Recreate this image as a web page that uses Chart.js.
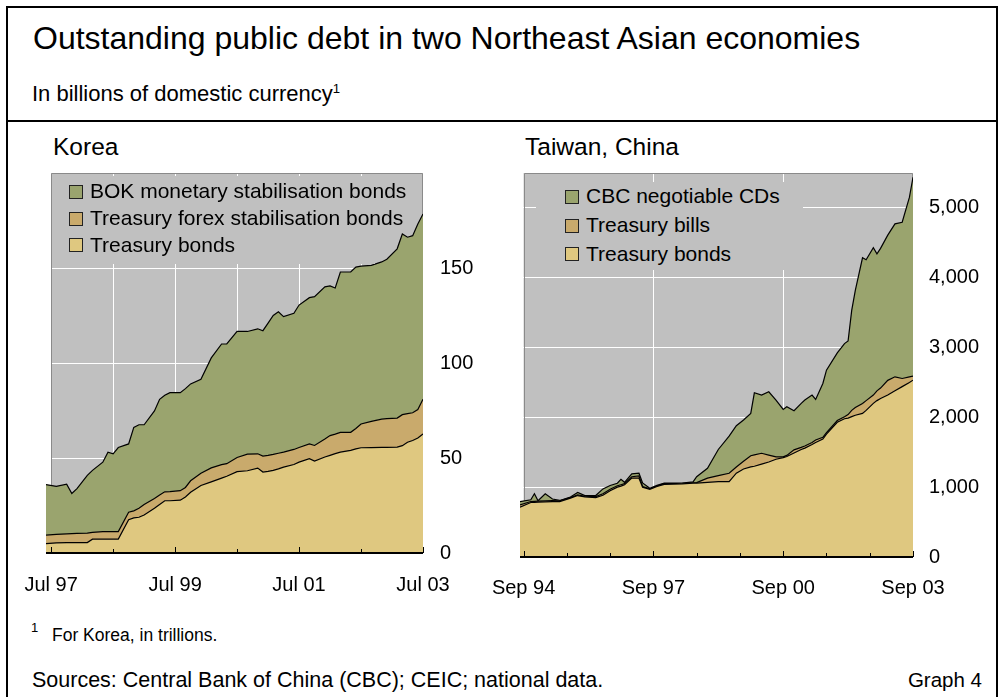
<!DOCTYPE html>
<html>
<head>
<meta charset="utf-8">
<script src="https://cdn.jsdelivr.net/npm/chart.js@4.4.1/dist/chart.umd.min.js"></script>
<style>
  html, body { margin: 0; padding: 0; background: #fff; }
  body { font-family: "Liberation Sans", Arial, sans-serif; color: #000; }
  #page { position: relative; width: 1000px; height: 697px; overflow: hidden; }
  .frame { position: absolute; left: 6px; top: 6px; width: 992px; height: 720px; border: 2px solid #000; box-sizing: border-box; }
  .rule { position: absolute; left: 6px; top: 120px; width: 992px; height: 2px; background: #000; }
  .t { position: absolute; line-height: 1; white-space: nowrap; }
  .t sup { font-size: 0.6em; vertical-align: 0.6em; line-height: 0; }
  canvas { position: absolute; }
  .legend { position: absolute; background: #c0c0c0; z-index: 2; }
  .sw { position: absolute; width: 12px; height: 12px; border: 1px solid #222; z-index: 3; }
  .lg { position: absolute; font-size: 21px; line-height: 1; white-space: nowrap; z-index: 3; }
</style>
</head>
<body>
<div id="page">
  <div class="frame"></div>
  <div class="rule"></div>
  <div class="t" style="left:33px; top:22px; font-size:32px;">Outstanding public debt in two Northeast Asian economies</div>
  <div class="t" style="left:32px; top:83px; font-size:22px;">In billions of domestic currency<sup>1</sup></div>
  <div class="t" style="left:53px; top:135px; font-size:24.5px;">Korea</div>
  <div class="t" style="left:525px; top:135px; font-size:24.5px;">Taiwan, China</div>

  <canvas id="kr" width="470" height="460" style="left:16px; top:160px;"></canvas>
  <canvas id="tw" width="500" height="460" style="left:490px; top:160px;"></canvas>

  <div class="t" style="left:31px; top:621px; font-size:13px;">1</div>
  <div class="t" style="left:52px; top:627px; font-size:17.5px;">For Korea, in trillions.</div>
  <div class="t" style="left:32px; top:670px; font-size:21.5px;">Sources: Central Bank of China (CBC); CEIC; national data.</div>
  <div class="t" style="right:18px; top:670px; font-size:20.5px;">Graph 4</div>
</div>
<script>
// Korea, trillions of won
const krDates = ['1997-06', '1997-08', '1997-10', '1997-11', '1997-12', '1998-02', '1998-03', '1998-05', '1998-06', '1998-07',
  '1998-08', '1998-10', '1998-11', '1998-12', '1999-01', '1999-03', '1999-04', '1999-05', '1999-06', '1999-08',
  '1999-09', '1999-10', '1999-12', '2000-02', '2000-04', '2000-05', '2000-07', '2000-09', '2000-11', '2000-12',
  '2001-01', '2001-02', '2001-03', '2001-04', '2001-06', '2001-07', '2001-09', '2001-10', '2001-12', '2002-01',
  '2002-02', '2002-03', '2002-05', '2002-06', '2002-07', '2002-09', '2002-11', '2002-12', '2003-02', '2003-03',
  '2003-04', '2003-05', '2003-06', '2003-07'];
const krBonds = [4.9, 5.3, 5.5, 5.5, 5.5, 5.5, 7.3, 7.3, 7.3, 7.3,
  7.3, 17.5, 18.5, 18.8, 20.0, 23.5, 25.5, 27.5, 27.5, 27.8,
  29.5, 32.0, 35.5, 37.4, 39.4, 40.4, 42.8, 43.3, 44.7, 42.6,
  43.0, 43.5, 44.3, 45.2, 46.6, 47.8, 49.6, 48.4, 50.5, 51.4,
  52.3, 53.1, 54.0, 54.8, 55.4, 55.5, 55.6, 55.6, 55.7, 56.5,
  58.3, 59.2, 60.5, 62.7];
const krForex = [4.5, 4.5, 4.6, 4.7, 4.8, 5.0, 3.6, 4.0, 4.0, 4.0,
  4.0, 4.0, 3.7, 4.7, 5.5, 5.2, 5.0, 4.7, 4.8, 5.0,
  5.0, 6.0, 6.5, 7.4, 7.1, 6.6, 7.5, 8.7, 7.5, 8.4,
  8.4, 8.4, 8.2, 7.9, 7.9, 7.7, 7.8, 8.2, 9.5, 10.4,
  10.3, 10.4, 9.5, 10.7, 12.5, 13.8, 14.9, 15.1, 15.3, 16.3,
  15.1, 14.6, 15.0, 18.2];
const krBok = [26.6, 25.3, 26.1, 21.1, 23.6, 30.4, 32.6, 36.5, 41.8, 40.9,
  44.2, 35.9, 43.9, 44.0, 42.0, 46.1, 50.4, 50.8, 52.1, 51.6,
  52.0, 51.0, 49.4, 57.9, 63.5, 63.0, 66.3, 64.6, 65.8, 66.0,
  69.6, 73.1, 74.5, 71.3, 71.7, 75.0, 77.0, 78.3, 80.1, 78.8,
  76.9, 84.4, 84.4, 85.0, 83.1, 82.1, 82.7, 83.9, 89.1, 95.1,
  92.8, 93.2, 97.7, 97.5];
const krXTicks = [0, 12, 24, 36, 48, 60, 72];
const krXLabels = ['Jul 97', '', 'Jul 99', '', 'Jul 01', '', 'Jul 03'];
const krYTicks = [0, 50, 100, 150, 200];
const krYLabels = ['0', '50', '100', '150', ''];

// Taiwan, China, billions of NT dollars
const twDates = ['1994-08', '1994-11', '1994-12', '1995-01', '1995-03', '1995-05', '1995-07', '1995-10', '1995-12', '1996-02',
  '1996-05', '1996-07', '1996-09', '1996-11', '1996-12', '1997-01', '1997-03', '1997-05', '1997-06', '1997-08',
  '1997-10', '1997-12', '1998-05', '1998-08', '1998-09', '1998-12', '1999-03', '1999-06', '1999-08', '1999-10',
  '1999-12', '2000-01', '2000-03', '2000-05', '2000-07', '2000-09', '2000-10', '2000-12', '2001-02', '2001-03',
  '2001-05', '2001-06', '2001-08', '2001-09', '2001-12', '2002-02', '2002-03', '2002-04', '2002-05', '2002-07',
  '2002-08', '2002-10', '2002-11', '2002-12', '2003-02', '2003-04', '2003-06', '2003-08', '2003-09'];
const twBonds = [714, 781, 783, 785, 790, 794, 794, 843, 880, 860,
  850, 885, 950, 1000, 1015, 1035, 1129, 1129, 1000, 970,
  1010, 1040, 1048, 1057, 1057, 1070, 1081, 1081, 1200, 1260,
  1290, 1300, 1330, 1360, 1400, 1424, 1440, 1490, 1540, 1560,
  1610, 1640, 1690, 1760, 1930, 1980, 1990, 2010, 2030, 2057,
  2100, 2200, 2240, 2270, 2320, 2380, 2440, 2500, 2533];
const twBills = [31, 14, 15, 15, 15, 14, 11, 7, 10, 10,
  15, 20, 20, 20, 20, 15, 21, 31, 10, 5,
  5, 10, 7, 5, 8, 60, 84, 119, 90, 110,
  160, 162, 156, 100, 35, 10, 15, 45, 30, 30,
  30, 35, 25, 20, 25, 30, 50, 90, 110, 143,
  140, 120, 140, 150, 210, 201, 117, 81, 57];
const twCds = [49, 24, 107, 5, 100, 22, 5, 10, 34, 10,
  15, 70, 55, 37, 77, 20, 40, 40, 50, 10,
  10, 7, 2, 13, 85, 141, 375, 530, 590, 592,
  607, 890, 833, 907, 813, 680, 697, 560, 630, 658,
  679, 582, 771, 896, 969, 1047, 1055, 1433, 1679, 2086,
  2017, 2109, 1963, 2000, 2080, 2190, 2238, 2569, 2848];
const twXTicks = [0, 12, 24, 36, 48, 60, 72, 84, 96, 108];
const twXLabels = ['Sep 94', '', '', 'Sep 97', '', '', 'Sep 00', '', '', 'Sep 03'];
const twYTicks = [0, 1000, 2000, 3000, 4000, 5000];
const twYLabels = ['0', '1,000', '2,000', '3,000', '4,000', '5,000'];

const GREEN = '#9aa46e';
const TAN = '#c9aa6c';
const YELLOW = '#dfc880';
const PLOT = '#c0c0c0';
const FONT = '"Liberation Sans", Arial, sans-serif';
const CLEAR = 'rgba(0,0,0,0)';

function monthIndex(d, base) {
  const [y, m] = d.split('-').map(Number);
  return (y - base[0]) * 12 + (m - base[1]);
}

// grey panel, its frame and the short inward ticks on the time axis
const plotFrame = {
  id: 'plotFrame',
  beforeDraw(chart) {
    const { ctx, chartArea: a } = chart;
    const x0 = chart.scales.x.getPixelForValue(0);
    ctx.save();
    ctx.fillStyle = PLOT;
    ctx.fillRect(x0, a.top, a.right - x0, a.bottom - a.top);
    ctx.restore();
  },
  beforeDatasetsDraw(chart) {
    const { ctx, chartArea: a } = chart;
    const x0 = Math.round(chart.scales.x.getPixelForValue(0)) + 0.5;
    ctx.save();
    ctx.strokeStyle = '#8a8a8a';
    ctx.lineWidth = 1;
    ctx.beginPath();
    ctx.moveTo(x0, a.bottom);
    ctx.lineTo(x0, a.top + 0.5);
    ctx.lineTo(a.right - 0.5, a.top + 0.5);
    ctx.lineTo(a.right - 0.5, a.bottom);
    ctx.stroke();
    ctx.restore();
  },
  afterDatasetsDraw(chart, args, opts) {
    const { ctx, chartArea: a } = chart;
    const x = chart.scales.x;
    ctx.save();
    ctx.strokeStyle = '#000';
    ctx.lineWidth = 2;
    ctx.beginPath();
    ctx.moveTo(a.left, a.bottom);
    ctx.lineTo(a.right, a.bottom);
    ctx.stroke();
    ctx.lineWidth = 1;
    opts.ticks.forEach((v, i) => {
      const px = Math.round(x.getPixelForValue(v)) + 0.5;
      const len = opts.labels[i] ? 6 : 4;
      ctx.beginPath();
      ctx.moveTo(px, a.bottom);
      ctx.lineTo(px, a.bottom - len);
      ctx.stroke();
    });
    ctx.restore();
  }
};

function buildChart(id, o) {
  const xs = o.dates.map(d => monthIndex(d, o.base));
  return new Chart(document.getElementById(id), {
    type: 'line',
    data: {
      datasets: o.series.map((s, i) => ({
        label: s.label,
        data: s.data.map((v, j) => ({ x: xs[j], y: v })),
        backgroundColor: s.color,
        borderColor: '#000',
        borderWidth: 1.2,
        pointRadius: 0,
        tension: 0,
        fill: i === 0 ? 'origin' : '-1'
      }))
    },
    options: {
      responsive: false,
      animation: false,
      devicePixelRatio: 1,
      layout: { padding: { left: o.padLeft, top: o.padTop, right: 0, bottom: 0 } },
      plugins: {
        legend: { display: false },
        tooltip: { enabled: false },
        plotFrame: { ticks: o.xTicks, labels: o.xLabels }
      },
      scales: {
        x: {
          type: 'linear',
          min: o.xMin,
          max: o.xMax,
          afterBuildTicks: s => { s.ticks = o.xTicks.map(v => ({ value: v })); },
          afterFit: s => { s.height = o.xHeight; s.paddingLeft = 0; s.paddingRight = 0; },
          ticks: {
            autoSkip: false,
            maxRotation: 0,
            padding: o.xPad,
            color: '#000',
            font: { family: FONT, size: 20 },
            callback: (v, i) => o.xLabels[i]
          },
          grid: {
            drawTicks: false,
            lineWidth: 1,
            color: c => (c.tick && o.xGrid.includes(c.tick.value)) ? '#fff' : CLEAR
          },
          border: { display: false }
        },
        y: {
          position: 'right',
          stacked: true,
          min: 0,
          max: o.yMax,
          afterBuildTicks: s => { s.ticks = o.yTicks.map(v => ({ value: v })); },
          afterFit: s => { s.width = o.yWidth; s.paddingTop = 0; s.paddingBottom = 0; },
          ticks: {
            padding: o.yPad,
            crossAlign: 'near',
            color: '#000',
            font: { family: FONT, size: 20 },
            callback: (v, i) => o.yLabels[i]
          },
          grid: {
            drawTicks: false,
            lineWidth: 1,
            color: c => (c.tick && c.tick.value > 0 && c.tick.value < o.yMax) ? '#fff' : CLEAR
          },
          border: { display: false }
        }
      }
    },
    plugins: [plotFrame]
  });
}

function buildLegend(box, rows, series) {
  const page = document.getElementById('page');
  const bg = document.createElement('div');
  bg.className = 'legend';
  Object.assign(bg.style, { left: box.left + 'px', top: box.top + 'px', width: box.width + 'px', height: box.height + 'px' });
  page.appendChild(bg);
  // legend lists the top series first
  series.slice().reverse().forEach((s, i) => {
    const sw = document.createElement('div');
    sw.className = 'sw';
    Object.assign(sw.style, { left: rows.swatchX + 'px', top: (rows.baselines[i] - 13.5) + 'px', background: s.color });
    page.appendChild(sw);
    const tx = document.createElement('div');
    tx.className = 'lg';
    tx.textContent = s.label;
    Object.assign(tx.style, { left: rows.textX + 'px', top: (rows.baselines[i] - 17.8) + 'px' });
    page.appendChild(tx);
  });
}

const krSeries = [
  { label: 'Treasury bonds', data: krBonds, color: YELLOW },
  { label: 'Treasury forex stabilisation bonds', data: krForex, color: TAN },
  { label: 'BOK monetary stabilisation bonds', data: krBok, color: GREEN }
];
const twSeries = [
  { label: 'Treasury bonds', data: twBonds, color: YELLOW },
  { label: 'Treasury bills', data: twBills, color: TAN },
  { label: 'CBC negotiable CDs', data: twCds, color: GREEN }
];

buildChart('kr', {
  dates: krDates, base: [1997, 7], series: krSeries,
  xMin: -1, xMax: 72, xTicks: krXTicks, xLabels: krXLabels, xGrid: [12, 24, 36, 48, 60],
  yMax: 200, yTicks: krYTicks, yLabels: krYLabels,
  padLeft: 30, padTop: 13, yWidth: 63, xHeight: 67, xPad: 20, yPad: 17
});
buildChart('tw', {
  dates: twDates, base: [1994, 9], series: twSeries,
  xMin: -1, xMax: 108, xTicks: twXTicks, xLabels: twXLabels, xGrid: [36, 72],
  yMax: 5500, yTicks: twYTicks, yLabels: twYLabels,
  padLeft: 30, padTop: 13, yWidth: 77, xHeight: 63, xPad: 19, yPad: 16
});

buildLegend({ left: 52, top: 176, width: 323, height: 88 },
  { swatchX: 69, textX: 90, baselines: [198, 225, 251.5] }, krSeries);
buildLegend({ left: 536, top: 182, width: 267, height: 88 },
  { swatchX: 565, textX: 586, baselines: [203, 232, 260.5] }, twSeries);
</script>
</body>
</html>
